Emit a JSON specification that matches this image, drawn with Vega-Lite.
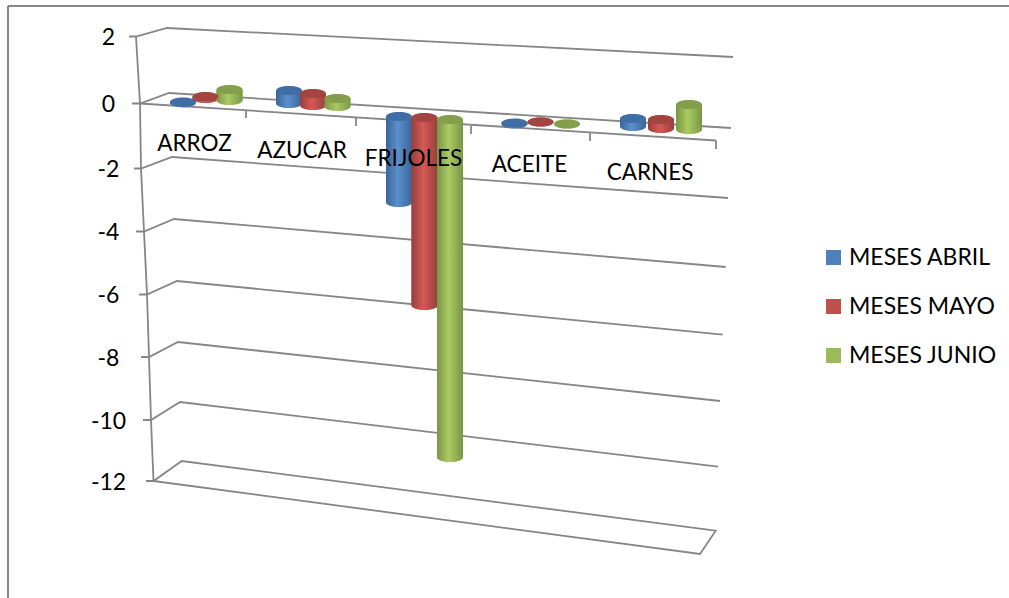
{"$schema":"https://vega.github.io/schema/vega-lite/v6.json","width":1001,"height":592,"autosize":"none","padding":{"left":8,"top":6,"right":0,"bottom":0},"background":"white","config":{"view":{"stroke":null},"font":"Lato"},
"datasets":{
"lineas":[
{"linea":"g2","orden":1,"p":-0.0957,"v":2},{"linea":"g2","orden":2,"p":-0.0348,"v":2},{"linea":"g2","orden":3,"p":0.2348,"v":2.254},{"linea":"g2","orden":4,"p":5.1565,"v":1.388},
{"linea":"g0","orden":1,"p":-0.0696,"v":0},{"linea":"g0","orden":2,"p":0,"v":0},{"linea":"g0","orden":3,"p":0.2522,"v":0.313},{"linea":"g0","orden":4,"p":5.1391,"v":-0.754},
{"linea":"g-2","orden":1,"p":-0.0522,"v":-2},{"linea":"g-2","orden":2,"p":0.0087,"v":-2},{"linea":"g-2","orden":3,"p":0.2783,"v":-1.646},{"linea":"g-2","orden":4,"p":5.113,"v":-2.937},
{"linea":"g-4","orden":1,"p":-0.0348,"v":-4},{"linea":"g-4","orden":2,"p":0.0348,"v":-4},{"linea":"g-4","orden":3,"p":0.2957,"v":-3.603},{"linea":"g-4","orden":4,"p":5.093,"v":-5.127},
{"linea":"g-6","orden":1,"p":-0.0087,"v":-6},{"linea":"g-6","orden":2,"p":0.0609,"v":-6},{"linea":"g-6","orden":3,"p":0.3217,"v":-5.571},{"linea":"g-6","orden":4,"p":5.067,"v":-7.286},
{"linea":"g-8","orden":1,"p":0.0087,"v":-8},{"linea":"g-8","orden":2,"p":0.0783,"v":-8},{"linea":"g-8","orden":3,"p":0.3304,"v":-7.52},{"linea":"g-8","orden":4,"p":5.0435,"v":-9.397},
{"linea":"g-10","orden":1,"p":0.0261,"v":-10},{"linea":"g-10","orden":2,"p":0.0957,"v":-10},{"linea":"g-10","orden":3,"p":0.3478,"v":-9.429},{"linea":"g-10","orden":4,"p":5.0261,"v":-11.531},
{"linea":"g-12","orden":1,"p":0.0522,"v":-12},{"linea":"g-12","orden":2,"p":0.1174,"v":-12},{"linea":"g-12","orden":3,"p":0.3626,"v":-11.344},{"linea":"g-12","orden":4,"p":5.0061,"v":-13.63},{"linea":"g-12","orden":5,"p":4.8696,"v":-14.393},{"linea":"g-12","orden":6,"p":0.1174,"v":-12},
{"linea":"eje","orden":1,"p":-0.0348,"v":2},{"linea":"eje","orden":2,"p":0,"v":0},{"linea":"eje","orden":3,"p":0.0087,"v":-2},{"linea":"eje","orden":4,"p":0.0348,"v":-4},{"linea":"eje","orden":5,"p":0.0609,"v":-6},{"linea":"eje","orden":6,"p":0.0783,"v":-8},{"linea":"eje","orden":7,"p":0.0957,"v":-10},{"linea":"eje","orden":8,"p":0.1174,"v":-12},
{"linea":"base","orden":1,"p":0,"v":0},{"linea":"base","orden":2,"p":5.0087,"v":-1.138},
{"linea":"t1","orden":1,"p":0.9217,"v":-0.2},{"linea":"t1","orden":2,"p":0.9217,"v":-0.446},
{"linea":"t2","orden":1,"p":1.8783,"v":-0.422},{"linea":"t2","orden":2,"p":1.8783,"v":-0.692},
{"linea":"t3","orden":1,"p":2.8783,"v":-0.692},{"linea":"t3","orden":2,"p":2.8783,"v":-0.938},
{"linea":"t4","orden":1,"p":3.913,"v":-0.908},{"linea":"t4","orden":2,"p":3.913,"v":-1.154},
{"linea":"t5","orden":1,"p":5.0087,"v":-1.138},{"linea":"t5","orden":2,"p":5.0087,"v":-1.4}
],
"barras":[
{"n":1,"producto":"ARROZ","mes":"MESES ABRIL","desde":0.04,"hasta":0.02},
{"n":2,"producto":"ARROZ","mes":"MESES MAYO","desde":0.209,"hasta":0.149},
{"n":3,"producto":"ARROZ","mes":"MESES JUNIO","desde":0.418,"hasta":0.09},
{"n":4,"producto":"AZUCAR","mes":"MESES ABRIL","desde":0.388,"hasta":0},
{"n":5,"producto":"AZUCAR","mes":"MESES MAYO","desde":0.299,"hasta":-0.062},
{"n":6,"producto":"AZUCAR","mes":"MESES JUNIO","desde":0.149,"hasta":-0.092},
{"n":7,"producto":"FRIJOLES","mes":"MESES ABRIL","desde":-0.4,"hasta":-3.079},
{"n":8,"producto":"FRIJOLES","mes":"MESES MAYO","desde":-0.431,"hasta":-6.352},
{"n":9,"producto":"FRIJOLES","mes":"MESES JUNIO","desde":-0.492,"hasta":-11.23},
{"n":10,"producto":"ACEITE","mes":"MESES ABRIL","desde":-0.6,"hasta":-0.63},
{"n":11,"producto":"ACEITE","mes":"MESES MAYO","desde":-0.569,"hasta":-0.569},
{"n":12,"producto":"ACEITE","mes":"MESES JUNIO","desde":-0.631,"hasta":-0.631},
{"n":13,"producto":"CARNES","mes":"MESES ABRIL","desde":-0.462,"hasta":-0.708},
{"n":14,"producto":"CARNES","mes":"MESES MAYO","desde":-0.492,"hasta":-0.769},
{"n":15,"producto":"CARNES","mes":"MESES JUNIO","desde":-0.031,"hasta":-0.8}
],
"etiquetas":[
{"n":2,"producto":"ARROZ","nivel":-1.246},
{"n":5,"producto":"AZUCAR","nivel":-1.462},
{"n":8,"producto":"FRIJOLES","nivel":-1.708},
{"n":11,"producto":"ACEITE","nivel":-1.892},
{"n":14,"producto":"CARNES","nivel":-2.143}
]},
"layer":[
{"data":{"name":"lineas"},"mark":{"type":"line","color":"#868686","strokeWidth":1.8,"clip":false},
"encoding":{"detail":{"field":"linea"},"order":{"field":"orden","type":"quantitative"},
"x":{"field":"p","type":"quantitative","axis":null,"scale":{"domain":[-1.1478,7.5565],"zero":false,"nice":false}},
"y":{"field":"v","type":"quantitative","scale":{"domain":[2.91,2,0,-2,-4,-6,-8,-10,-12,-15.84],"range":[0,30.5,97.5,162.5,225.5,288.5,351,414,475,592],"zero":false,"nice":false},
"axis":{"title":null,"values":[2,0,-2,-4,-6,-8,-10,-12],"labelExpr":"toString(datum.value)","domain":false,"ticks":false,"grid":false,"offset":-120,"labelFontSize":23,"labelFont":"Lato","labelColor":"#000000","labelPadding":20,"labelAlign":"center","labelOffset":1}}}},
{"data":{"values":[{"k":1}]},"mark":{"type":"rule","color":"#868686","strokeWidth":2},"encoding":{"x":{"datum":-1.1478,"type":"quantitative","axis":null,"scale":{"domain":[-1.1478,7.5565],"zero":false,"nice":false}}}},
{"data":{"values":[{"k":1}]},"mark":{"type":"rule","color":"#868686","strokeWidth":2},"encoding":{"y":{"datum":2.91,"type":"quantitative"}}},
{"data":{"name":"barras"},"mark":{"type":"point","filled":true,"size":676,"opacity":1,"shape":"M-1,0 A1,0.35 0 1 0 1,0 A1,0.35 0 1 0 -1,0 Z"},
"encoding":{"x":{"field":"n","type":"quantitative","axis":null,"scale":{"domain":[0,1,2,3,4,5,6,7,8,9,10,11,12,13,14,15,16],"range":[150,175,197.5,221.5,281,305,329.5,391,416.5,442,506.5,532.5,559,625,653,681,710],"zero":false,"nice":false}},
"y":{"field":"hasta","type":"quantitative"},
"fill":{"condition":[{"test":"datum.mes==='MESES ABRIL'","value":{"x1":0,"x2":1,"y1":0,"y2":0,"gradient":"linear","stops":[{"offset":0,"color":"#3A6599"},{"offset":0.45,"color":"#5B90CF"},{"offset":1,"color":"#3A6599"}]}},{"test":"datum.mes==='MESES MAYO'","value":{"x1":0,"x2":1,"y1":0,"y2":0,"gradient":"linear","stops":[{"offset":0,"color":"#983E3B"},{"offset":0.45,"color":"#D55A56"},{"offset":1,"color":"#983E3B"}]}}],"value":{"x1":0,"x2":1,"y1":0,"y2":0,"gradient":"linear","stops":[{"offset":0,"color":"#7A9546"},{"offset":0.45,"color":"#A9CB62"},{"offset":1,"color":"#7A9546"}]}}}},
{"data":{"name":"barras"},"mark":{"type":"bar","width":26},
"encoding":{"x":{"field":"n","type":"quantitative","axis":null,"scale":{"domain":[0,1,2,3,4,5,6,7,8,9,10,11,12,13,14,15,16],"range":[150,175,197.5,221.5,281,305,329.5,391,416.5,442,506.5,532.5,559,625,653,681,710],"zero":false,"nice":false}},
"y":{"field":"desde","type":"quantitative"},"y2":{"field":"hasta"},
"color":{"field":"mes","type":"nominal","scale":{"domain":["MESES ABRIL","MESES MAYO","MESES JUNIO"],"range":["#4F81BD","#C0504D","#9BBB59"]},
"legend":{"title":null,"orient":"none","legendX":814,"legendY":240,"symbolType":"square","symbolSize":225,"symbolStrokeWidth":0,"labelFont":"Lato","labelFontSize":23,"labelColor":"#000000","labelOffset":4,"rowPadding":25,"labelLimit":300}}}},
{"data":{"name":"barras"},"mark":{"type":"bar","width":26},
"encoding":{"x":{"field":"n","type":"quantitative","axis":null,"scale":{"domain":[0,1,2,3,4,5,6,7,8,9,10,11,12,13,14,15,16],"range":[150,175,197.5,221.5,281,305,329.5,391,416.5,442,506.5,532.5,559,625,653,681,710],"zero":false,"nice":false}},
"y":{"field":"desde","type":"quantitative"},"y2":{"field":"hasta"},
"fill":{"condition":[{"test":"datum.mes==='MESES ABRIL'","value":{"x1":0,"x2":1,"y1":0,"y2":0,"gradient":"linear","stops":[{"offset":0,"color":"#3A6599"},{"offset":0.45,"color":"#5B90CF"},{"offset":1,"color":"#3A6599"}]}},{"test":"datum.mes==='MESES MAYO'","value":{"x1":0,"x2":1,"y1":0,"y2":0,"gradient":"linear","stops":[{"offset":0,"color":"#983E3B"},{"offset":0.45,"color":"#D55A56"},{"offset":1,"color":"#983E3B"}]}}],"value":{"x1":0,"x2":1,"y1":0,"y2":0,"gradient":"linear","stops":[{"offset":0,"color":"#7A9546"},{"offset":0.45,"color":"#A9CB62"},{"offset":1,"color":"#7A9546"}]}}}},
{"data":{"name":"barras"},"mark":{"type":"point","filled":true,"size":676,"opacity":1,"shape":"M-1,0 A1,0.35 0 1 0 1,0 A1,0.35 0 1 0 -1,0 Z"},
"encoding":{"x":{"field":"n","type":"quantitative","axis":null,"scale":{"domain":[0,1,2,3,4,5,6,7,8,9,10,11,12,13,14,15,16],"range":[150,175,197.5,221.5,281,305,329.5,391,416.5,442,506.5,532.5,559,625,653,681,710],"zero":false,"nice":false}},
"y":{"field":"desde","type":"quantitative"},
"fill":{"condition":[{"test":"datum.mes==='MESES ABRIL'","value":"#3F6DA4"},{"test":"datum.mes==='MESES MAYO'","value":"#A34441"}],"value":"#849F4B"}}},
{"data":{"name":"etiquetas"},"mark":{"type":"text","font":"Lato","fontSize":22.5,"color":"#000000","dx":-11,"baseline":"middle","align":"center"},
"encoding":{"x":{"field":"n","type":"quantitative","axis":null,"scale":{"domain":[0,1,2,3,4,5,6,7,8,9,10,11,12,13,14,15,16],"range":[150,175,197.5,221.5,281,305,329.5,391,416.5,442,506.5,532.5,559,625,653,681,710],"zero":false,"nice":false}},
"y":{"field":"nivel","type":"quantitative"},"text":{"field":"producto"}}}
],
"resolve":{"scale":{"x":"independent"}}}
